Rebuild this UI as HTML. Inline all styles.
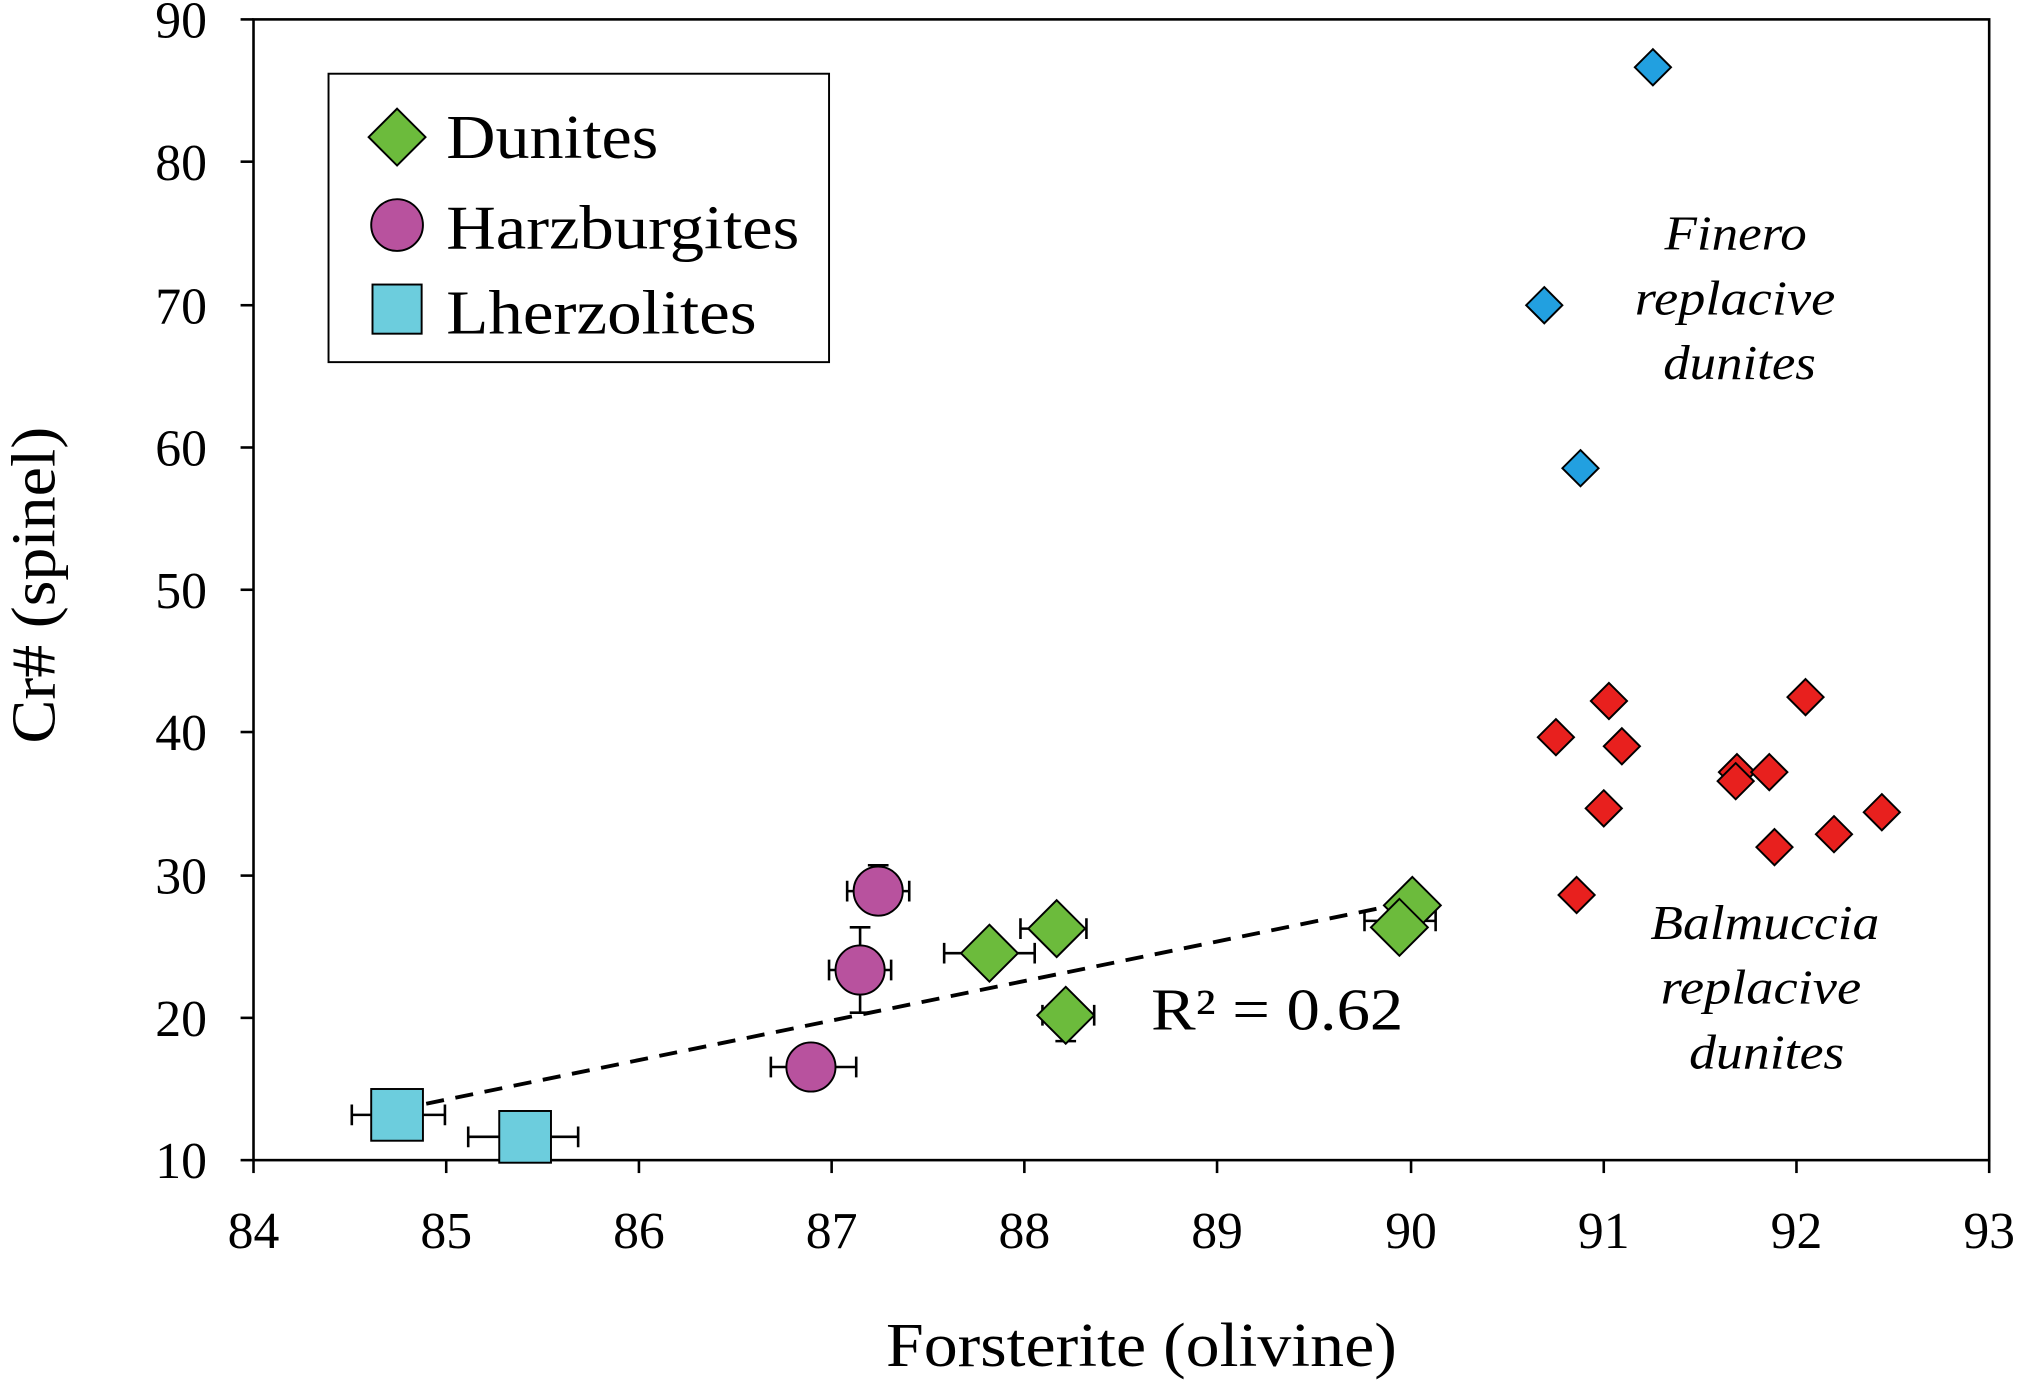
<!DOCTYPE html>
<html><head><style>html,body{margin:0;padding:0;background:#fff}svg{display:block}</style></head>
<body>
<svg width="2028" height="1380" viewBox="0 0 1568 1067" xmlns="http://www.w3.org/2000/svg" font-family="Liberation Serif, serif">
<rect x="0" y="0" width="1568" height="1067" fill="#fff"/>
<rect x="196" y="15" width="1342" height="882" fill="none" stroke="#000" stroke-width="2"/>
<g stroke="#000" stroke-width="2">
<line x1="196" y1="897" x2="196" y2="907"/><line x1="345" y1="897" x2="345" y2="907"/><line x1="494" y1="897" x2="494" y2="907"/><line x1="643" y1="897" x2="643" y2="907"/><line x1="792" y1="897" x2="792" y2="907"/><line x1="941" y1="897" x2="941" y2="907"/><line x1="1091" y1="897" x2="1091" y2="907"/><line x1="1240" y1="897" x2="1240" y2="907"/><line x1="1389" y1="897" x2="1389" y2="907"/><line x1="1538" y1="897" x2="1538" y2="907"/>
<line x1="186" y1="15" x2="196" y2="15"/><line x1="186" y1="125" x2="196" y2="125"/><line x1="186" y1="236" x2="196" y2="236"/><line x1="186" y1="346" x2="196" y2="346"/><line x1="186" y1="456" x2="196" y2="456"/><line x1="186" y1="566" x2="196" y2="566"/><line x1="186" y1="677" x2="196" y2="677"/><line x1="186" y1="787" x2="196" y2="787"/><line x1="186" y1="897" x2="196" y2="897"/>
</g>
<g font-size="40" text-anchor="middle">
<text x="196" y="965">84</text><text x="345" y="965">85</text><text x="494" y="965">86</text><text x="643" y="965">87</text><text x="792" y="965">88</text><text x="941" y="965">89</text><text x="1091" y="965">90</text><text x="1240" y="965">91</text><text x="1389" y="965">92</text><text x="1538" y="965">93</text>
</g>
<g font-size="40" text-anchor="end">
<text x="160" y="29">90</text><text x="160" y="139">80</text><text x="160" y="250">70</text><text x="160" y="360">60</text><text x="160" y="470">50</text><text x="160" y="580">40</text><text x="160" y="691">30</text><text x="160" y="801">20</text><text x="160" y="911">10</text>
</g>
<text x="685" y="1056" font-size="48" textLength="395" lengthAdjust="spacingAndGlyphs">Forsterite  (olivine)</text>
<text transform="translate(42,575) rotate(-90)" font-size="48" textLength="245" lengthAdjust="spacingAndGlyphs">Cr# (spinel)</text>
<line x1="307" y1="858" x2="1092" y2="697" stroke="#000" stroke-width="3" stroke-dasharray="14,9"/>
<text x="890" y="796" font-size="46" textLength="195" lengthAdjust="spacingAndGlyphs">R² = 0.62</text>
<g font-size="38" font-style="italic">
<text x="1287" y="193" textLength="110" lengthAdjust="spacingAndGlyphs">Finero</text><text x="1264" y="243" textLength="155" lengthAdjust="spacingAndGlyphs">replacive</text><text x="1286" y="293" textLength="118" lengthAdjust="spacingAndGlyphs">dunites</text>
<text x="1276" y="726" textLength="177" lengthAdjust="spacingAndGlyphs">Balmuccia</text><text x="1284" y="776" textLength="155" lengthAdjust="spacingAndGlyphs">replacive</text><text x="1306" y="826" textLength="120" lengthAdjust="spacingAndGlyphs">dunites</text>
</g>
<g stroke="#000" stroke-width="2" fill="none">
<path d="M730 737H800M730 729V745M800 729V745"/>
<path d="M789 718H840M789 710V726M840 710V726"/>
<path d="M806 785H846M806 777V793M846 777V793M824 770V805M816 805H832"/>
<path d="M1055 712H1110M1055 704V720M1110 704V720"/>
<path d="M655 689H703M655 681V697M703 681V697M679 669V689M671 669H687"/>
<path d="M641 750H689M641 742V758M689 742V758M665 717V783M657 717H673M657 783H673"/>
<path d="M596 825H662M596 817V833M662 817V833"/>
<path d="M272 862H344M272 854V870M344 854V870"/>
<path d="M362 879H447M362 871V887M447 871V887"/>
</g>
<g stroke="#000" stroke-width="1.5" fill="#22A0E0">
<path d="M1278 38l14 14-14 14-14-14z"/><path d="M1194 222l14 14-14 14-14-14z"/><path d="M1222 348l14 14-14 14-14-14z"/>
</g>
<g stroke="#000" stroke-width="1.5" fill="#E8201E">
<path d="M1203 556l14 14-14 14-14-14z"/><path d="M1244 528l14 14-14 14-14-14z"/><path d="M1254 563l14 14-14 14-14-14z"/><path d="M1240 611l14 14-14 14-14-14z"/><path d="M1219 678l14 14-14 14-14-14z"/><path d="M1343 583l14 14-14 14-14-14z"/><path d="M1342 590l14 14-14 14-14-14z"/><path d="M1368 583l14 14-14 14-14-14z"/><path d="M1372 641l14 14-14 14-14-14z"/><path d="M1396 525l14 14-14 14-14-14z"/><path d="M1418 631l14 14-14 14-14-14z"/><path d="M1455 614l14 14-14 14-14-14z"/>
</g>
<g stroke="#000" stroke-width="1.5" fill="#6CBB3C">
<path d="M765 715l22 22-22 22-22-22z"/><path d="M817 696l22 22-22 22-22-22z"/><path d="M824 763l22 22-22 22-22-22z"/><path d="M1092 678l22 22-22 22-22-22z"/><path d="M1082 695l22 22-22 22-22-22z"/>
</g>
<g stroke="#000" stroke-width="1.5" fill="#B8529E">
<circle cx="679" cy="689" r="19"/><circle cx="665" cy="750" r="19"/><circle cx="627" cy="825" r="19"/>
</g>
<g stroke="#000" stroke-width="1.5" fill="#6CCDDD">
<rect x="287" y="842" width="40" height="40"/><rect x="386" y="859" width="40" height="40"/>
</g>
<rect x="254" y="57" width="387" height="223" fill="#fff" stroke="#000" stroke-width="1.5"/>
<path d="M307 84l22 22-22 22-22-22z" fill="#6CBB3C" stroke="#000" stroke-width="1.5"/>
<circle cx="307" cy="174" r="20" fill="#B8529E" stroke="#000" stroke-width="1.5"/>
<rect x="288" y="220" width="38" height="38" fill="#6CCDDD" stroke="#000" stroke-width="1.5"/>
<g font-size="48"><text x="345" y="122" textLength="164" lengthAdjust="spacingAndGlyphs">Dunites</text><text x="345" y="192" textLength="273" lengthAdjust="spacingAndGlyphs">Harzburgites</text><text x="345" y="258" textLength="240" lengthAdjust="spacingAndGlyphs">Lherzolites</text></g>
</svg>
</body></html>
